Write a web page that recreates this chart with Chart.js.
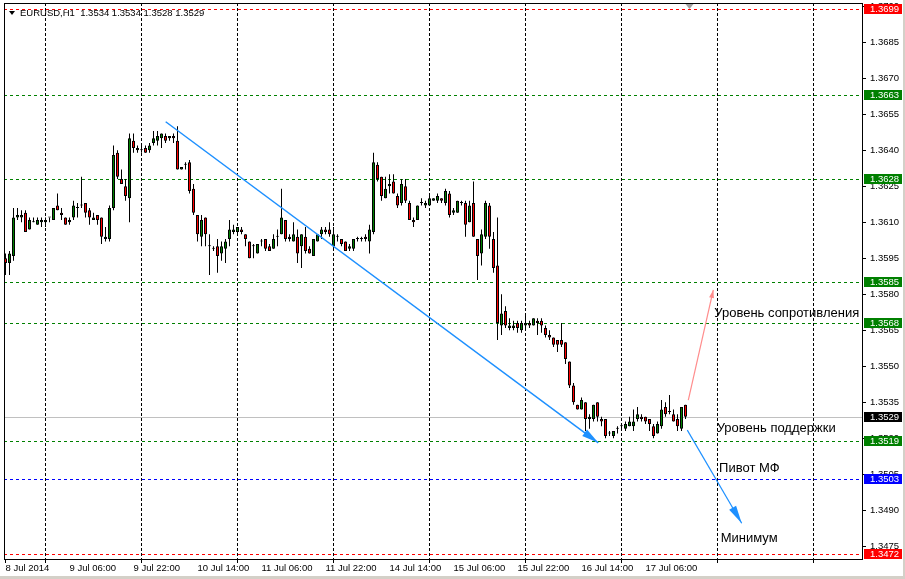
<!DOCTYPE html>
<html>
<head>
<meta charset="utf-8">
<script src="https://cdn.jsdelivr.net/npm/chart.js@4.4.1/dist/chart.umd.min.js"></script>
<style>
  html, body { margin: 0; padding: 0; background: #fff; }
  #wrap { width: 905px; height: 579px; position: relative; }
</style>
</head>
<body>
<div id="wrap"><canvas id="chart" width="905" height="579"></canvas></div>
<script>
// EURUSD, H1 - bars from 8 Jul 2014 14:00 to 17 Jul 2014 16:00
const opens = [
  1.3595, 1.3593, 1.3596, 1.3612, 1.3612, 1.3614, 1.3607, 1.3610, 1.3609, 1.3610,
  1.3610, 1.3612, 1.3611, 1.3617, 1.3614, 1.3612, 1.3610, 1.3612, 1.3616, 1.3617,
  1.3618, 1.3615, 1.3611, 1.3613, 1.3612, 1.3603, 1.3603, 1.3616, 1.3639, 1.3628,
  1.3625, 1.3620, 1.3644, 1.3640, 1.3640, 1.3641, 1.3640, 1.3643, 1.3644, 1.3645,
  1.3646, 1.3645, 1.3646, 1.3644, 1.3632, 1.3634, 1.3635, 1.3624, 1.3613, 1.3604,
  1.3612, 1.3600, 1.3599, 1.3600, 1.3597, 1.3599, 1.3603, 1.3606, 1.3606, 1.3607,
  1.3605, 1.3602, 1.3600, 1.3597, 1.3602, 1.3603, 1.3600, 1.3599, 1.3604, 1.3605,
  1.3611, 1.3604, 1.3602, 1.3604, 1.3600, 1.3604, 1.3599, 1.3596, 1.3602, 1.3605,
  1.3607, 1.3607, 1.3600, 1.3604, 1.3603, 1.3602, 1.3599, 1.3599, 1.3603, 1.3603,
  1.3604, 1.3602, 1.3606, 1.3634, 1.3629, 1.3620, 1.3625, 1.3627, 1.3621, 1.3618,
  1.3625, 1.3618, 1.3611, 1.3611, 1.3618, 1.3617, 1.3617, 1.3619, 1.3619, 1.3620,
  1.3618, 1.3622, 1.3614, 1.3614, 1.3618, 1.3618, 1.3610, 1.3618, 1.3603, 1.3597,
  1.3604, 1.3617, 1.3603, 1.3592, 1.3567, 1.3573, 1.3566, 1.3566, 1.3568, 1.3565,
  1.3567, 1.3568, 1.3567, 1.3569, 1.3569, 1.3566, 1.3563, 1.3562, 1.3561, 1.3561,
  1.3560, 1.3552, 1.3542, 1.3534, 1.3532, 1.3535, 1.3528, 1.3528, 1.3535, 1.3528,
  1.3528, 1.3522, 1.3521, 1.3524, 1.3525, 1.3524, 1.3525, 1.3525, 1.3528, 1.3529,
  1.3529, 1.3528, 1.3525, 1.3522, 1.3525, 1.3533, 1.3531, 1.3530, 1.3528, 1.3524,
  1.3534
];
const highs = [
  1.3597, 1.3598, 1.3616, 1.3616, 1.3615, 1.3615, 1.3612, 1.3612, 1.3612, 1.3612,
  1.3612, 1.3612, 1.3616, 1.3622, 1.3616, 1.3612, 1.3612, 1.3619, 1.3618, 1.3629,
  1.3618, 1.3616, 1.3614, 1.3613, 1.3612, 1.3608, 1.3617, 1.3642, 1.3640, 1.3632,
  1.3628, 1.3647, 1.3647, 1.3642, 1.3643, 1.3642, 1.3643, 1.3648, 1.3648, 1.3647,
  1.3647, 1.3646, 1.3647, 1.3650, 1.3633, 1.3635, 1.3636, 1.3626, 1.3613, 1.3613,
  1.3612, 1.3605, 1.3600, 1.3603, 1.3602, 1.3603, 1.3611, 1.3609, 1.3608, 1.3608,
  1.3605, 1.3602, 1.3601, 1.3601, 1.3603, 1.3603, 1.3601, 1.3605, 1.3607, 1.3624,
  1.3611, 1.3605, 1.3610, 1.3607, 1.3605, 1.3608, 1.3600, 1.3603, 1.3605, 1.3608,
  1.3608, 1.3610, 1.3608, 1.3605, 1.3603, 1.3602, 1.3601, 1.3603, 1.3604, 1.3604,
  1.3605, 1.3609, 1.3639, 1.3635, 1.3629, 1.3629, 1.3630, 1.3630, 1.3622, 1.3628,
  1.3628, 1.3619, 1.3612, 1.3617, 1.3620, 1.3619, 1.3621, 1.3620, 1.3622, 1.3620,
  1.3624, 1.3623, 1.3616, 1.3619, 1.3619, 1.3619, 1.3619, 1.3627, 1.3603, 1.3607,
  1.3619, 1.3618, 1.3606, 1.3612, 1.3580, 1.3575, 1.3570, 1.3569, 1.3569, 1.3569,
  1.3571, 1.3569, 1.3570, 1.3570, 1.3570, 1.3567, 1.3565, 1.3562, 1.3561, 1.3568,
  1.3560, 1.3552, 1.3543, 1.3534, 1.3537, 1.3535, 1.3530, 1.3534, 1.3535, 1.3529,
  1.3528, 1.3523, 1.3523, 1.3525, 1.3526, 1.3527, 1.3529, 1.3532, 1.3533, 1.3530,
  1.3529, 1.3528, 1.3526, 1.3527, 1.3536, 1.3535, 1.3538, 1.3532, 1.3530, 1.3533,
  1.3534
];
const lows = [
  1.3588, 1.3588, 1.3594, 1.3611, 1.3610, 1.3606, 1.3607, 1.3610, 1.3609, 1.3608,
  1.3608, 1.3610, 1.3611, 1.3615, 1.3611, 1.3609, 1.3609, 1.3611, 1.3612, 1.3616,
  1.3612, 1.3609, 1.3611, 1.3609, 1.3601, 1.3602, 1.3602, 1.3615, 1.3628, 1.3626,
  1.3619, 1.3610, 1.3639, 1.3639, 1.3639, 1.3639, 1.3639, 1.3642, 1.3642, 1.3641,
  1.3643, 1.3644, 1.3643, 1.3632, 1.3632, 1.3632, 1.3622, 1.3613, 1.3602, 1.3600,
  1.3600, 1.3588, 1.3598, 1.3589, 1.3594, 1.3593, 1.3600, 1.3605, 1.3605, 1.3605,
  1.3600, 1.3595, 1.3595, 1.3597, 1.3600, 1.3598, 1.3598, 1.3599, 1.3600, 1.3605,
  1.3602, 1.3602, 1.3602, 1.3593, 1.3591, 1.3597, 1.3597, 1.3596, 1.3602, 1.3603,
  1.3605, 1.3604, 1.3599, 1.3602, 1.3600, 1.3598, 1.3598, 1.3598, 1.3602, 1.3602,
  1.3602, 1.3597, 1.3605, 1.3627, 1.3619, 1.3620, 1.3622, 1.3622, 1.3616, 1.3617,
  1.3618, 1.3611, 1.3608, 1.3611, 1.3617, 1.3616, 1.3617, 1.3619, 1.3618, 1.3618,
  1.3617, 1.3612, 1.3613, 1.3614, 1.3617, 1.3604, 1.3610, 1.3604, 1.3586, 1.3592,
  1.3603, 1.3599, 1.3589, 1.3561, 1.3563, 1.3566, 1.3565, 1.3565, 1.3564, 1.3564,
  1.3565, 1.3566, 1.3567, 1.3563, 1.3564, 1.3562, 1.3561, 1.3558, 1.3556, 1.3558,
  1.3551, 1.3541, 1.3534, 1.3532, 1.3532, 1.3523, 1.3524, 1.3527, 1.3527, 1.3525,
  1.3520, 1.3521, 1.3520, 1.3522, 1.3523, 1.3523, 1.3525, 1.3523, 1.3527, 1.3527,
  1.3526, 1.3523, 1.3520, 1.3522, 1.3524, 1.3529, 1.3530, 1.3527, 1.3523, 1.3523,
  1.3528
];
const closes = [
  1.3593, 1.3597, 1.3612, 1.3613, 1.3613, 1.3606, 1.3611, 1.3610, 1.3611, 1.3611,
  1.3611, 1.3612, 1.3616, 1.3615, 1.3613, 1.3609, 1.3611, 1.3617, 1.3616, 1.3617,
  1.3614, 1.3612, 1.3612, 1.3611, 1.3604, 1.3604, 1.3616, 1.3638, 1.3629, 1.3626,
  1.3621, 1.3645, 1.3641, 1.3641, 1.3640, 1.3639, 1.3642, 1.3645, 1.3646, 1.3647,
  1.3644, 1.3646, 1.3645, 1.3632, 1.3633, 1.3634, 1.3623, 1.3614, 1.3605, 1.3611,
  1.3605, 1.3600, 1.3599, 1.3596, 1.3600, 1.3602, 1.3607, 1.3607, 1.3608, 1.3606,
  1.3603, 1.3595, 1.3600, 1.3601, 1.3602, 1.3599, 1.3598, 1.3603, 1.3604, 1.3612,
  1.3603, 1.3603, 1.3605, 1.3597, 1.3605, 1.3598, 1.3597, 1.3603, 1.3605, 1.3607,
  1.3606, 1.3605, 1.3605, 1.3604, 1.3601, 1.3598, 1.3600, 1.3603, 1.3603, 1.3603,
  1.3603, 1.3607, 1.3635, 1.3628, 1.3621, 1.3624, 1.3626, 1.3622, 1.3617, 1.3626,
  1.3619, 1.3611, 1.3610, 1.3617, 1.3618, 1.3618, 1.3620, 1.3620, 1.3621, 1.3619,
  1.3623, 1.3613, 1.3615, 1.3619, 1.3618, 1.3609, 1.3617, 1.3604, 1.3596, 1.3605,
  1.3618, 1.3604, 1.3591, 1.3568, 1.3572, 1.3567, 1.3567, 1.3567, 1.3566, 1.3568,
  1.3568, 1.3567, 1.3570, 1.3568, 1.3567, 1.3563, 1.3562, 1.3559, 1.3559, 1.3559,
  1.3553, 1.3542, 1.3535, 1.3532, 1.3536, 1.3528, 1.3529, 1.3534, 1.3529, 1.3527,
  1.3521, 1.3522, 1.3523, 1.3524, 1.3525, 1.3526, 1.3527, 1.3527, 1.3530, 1.3528,
  1.3527, 1.3526, 1.3521, 1.3526, 1.3532, 1.3530, 1.3531, 1.3527, 1.3525, 1.3533,
  1.3529
];

const symbol = 'EURUSD,H1';

// time axis: bar index -> label
const xTickBars = [0, 16, 32, 48, 64, 80, 96, 112, 128, 144, 160];
const xTickLabels = ['8 Jul 2014', '9 Jul 06:00', '9 Jul 22:00', '10 Jul 14:00', '11 Jul 06:00',
  '11 Jul 22:00', '14 Jul 14:00', '15 Jul 06:00', '15 Jul 22:00', '16 Jul 14:00', '17 Jul 06:00'];
const gridBars = [10, 34, 58, 82, 106, 130, 154, 178, 202];   // midnight bars
const yTicks = [1.3475, 1.3490, 1.3505, 1.3520, 1.3535, 1.3550, 1.3565, 1.3580,
  1.3595, 1.3610, 1.3625, 1.3640, 1.3655, 1.3670, 1.3685, 1.3700];

// horizontal levels
const levelPrices = [1.3699, 1.3663, 1.3628, 1.3585, 1.3568, 1.3519, 1.3503, 1.3472];
const levelColors = ['#ff0000', '#008000', '#008000', '#008000', '#008000', '#008000', '#0000ff', '#ff0000'];

// drawn objects (bar index, price)
const trendFrom = [40.05, 1.36519];
const trendTo = [148.2, 1.35181];
const upFrom = [170.7, 1.35359];
const upTo = [176.95, 1.35818];
const downFrom = [170.45, 1.35234];
const downTo = [184.05, 1.34846];
const noteTexts = ['Уровень сопротивления', 'Уровень поддержки', 'Пивот МФ', 'Минимум'];
const noteBars = [177.2, 177.8, 178.4, 178.8];
const notePrices = [1.35721, 1.35241, 1.35075, 1.34783];

const FONT = 'Liberation Sans, Arial, sans-serif';
const BULL = '#008000';
const BEAR = '#ff0000';

const idx = closes.map((c, i) => i);
const bodyColors = closes.map((c, i) => c >= opens[i] ? BULL : BEAR);

// 辅助：画带箭头的线
function drawArrow(ctx, x1, y1, x2, y2, color, width, headLen, headHalf) {
  ctx.strokeStyle = color;
  ctx.lineWidth = width;
  ctx.setLineDash([]);
  ctx.beginPath();
  ctx.moveTo(x1, y1);
  ctx.lineTo(x2, y2);
  ctx.stroke();
  if (!headLen) return;
  const a = Math.atan2(y2 - y1, x2 - x1);
  const bx = x2 - headLen * Math.cos(a), by = y2 - headLen * Math.sin(a);
  ctx.fillStyle = color;
  ctx.beginPath();
  ctx.moveTo(x2, y2);
  ctx.lineTo(bx + headHalf * Math.sin(a), by - headHalf * Math.cos(a));
  ctx.lineTo(bx - headHalf * Math.sin(a), by + headHalf * Math.cos(a));
  ctx.closePath();
  ctx.fill();
}

const terminalPlugin = {
  id: 'terminal',
  beforeDatasetsDraw(chart) {
    const {ctx, chartArea: a, scales: {x, y}} = chart;
    ctx.save();
    ctx.beginPath();
    ctx.rect(a.left, a.top, a.right - a.left, a.bottom - a.top);
    ctx.clip();
    ctx.lineWidth = 1;
    // vertical grid
    ctx.strokeStyle = '#000';
    ctx.setLineDash([3, 2]);
    gridBars.forEach(b => {
      const px = Math.floor(x.getPixelForValue(b)) + 0.5;
      ctx.beginPath();
      ctx.moveTo(px, a.top);
      ctx.lineTo(px, a.bottom);
      ctx.stroke();
    });
    // bid line
    ctx.setLineDash([]);
    ctx.strokeStyle = '#c0c0c0';
    const by = Math.round(y.getPixelForValue(closes[closes.length - 1])) + 0.5;
    ctx.beginPath();
    ctx.moveTo(a.left, by);
    ctx.lineTo(a.right, by);
    ctx.stroke();
    // levels
    ctx.setLineDash([3, 3]);
    levelPrices.forEach((p, k) => {
      const py = Math.round(y.getPixelForValue(p)) + 0.5;
      ctx.strokeStyle = levelColors[k];
      ctx.beginPath();
      ctx.moveTo(a.left, py);
      ctx.lineTo(a.right, py);
      ctx.stroke();
    });
    ctx.restore();
  },
  afterDatasetsDraw(chart) {
    const {ctx, chartArea: a, scales: {x, y}} = chart;
    const P = (pt) => [x.getPixelForValue(pt[0]), y.getPixelForValue(pt[1])];
    ctx.save();
    ctx.beginPath();
    ctx.rect(a.left, a.top, a.right - a.left, a.bottom - a.top);
    ctx.clip();
    let p1 = P(trendFrom), p2 = P(trendTo);
    drawArrow(ctx, p1[0], p1[1], p2[0], p2[1], '#1e90ff', 1.5, 17, 4);
    p1 = P(upFrom); p2 = P(upTo);
    drawArrow(ctx, p1[0], p1[1], p2[0], p2[1], '#ff8c8c', 1.2, 8, 2.5);
    p1 = P(downFrom); p2 = P(downTo);
    drawArrow(ctx, p1[0], p1[1], p2[0], p2[1], '#1e90ff', 1.2, 18, 4);
    // notes
    ctx.fillStyle = '#000';
    ctx.font = '13px ' + FONT;
    ctx.textBaseline = 'middle';
    ctx.textAlign = 'left';
    noteTexts.forEach((t, k) => {
      ctx.fillText(t, x.getPixelForValue(noteBars[k]), y.getPixelForValue(notePrices[k]));
    });
    ctx.restore();
  },
  afterDraw(chart) {
    const {ctx, chartArea: a, scales: {x, y}} = chart;
    ctx.save();
    // frame
    ctx.strokeStyle = '#000';
    ctx.lineWidth = 1;
    ctx.strokeRect(a.left + 0.5, a.top + 0.5, a.right - a.left, a.bottom - a.top);
    // bottom tick marks on grid lines
    [0].concat(gridBars).forEach(b => {
      const px = Math.floor(x.getPixelForValue(b)) + 0.5;
      if (px > a.right) return;
      ctx.beginPath();
      ctx.moveTo(px, a.bottom);
      ctx.lineTo(px, a.bottom + 4);
      ctx.stroke();
    });
    // price boxes on the axis
    ctx.font = '9.5px ' + FONT;
    ctx.textBaseline = 'middle';
    ctx.textAlign = 'left';
    const box = (price, color) => {
      const py = Math.round(y.getPixelForValue(price));
      ctx.fillStyle = color;
      ctx.fillRect(a.right + 2, py - 5, 38, 10);
      ctx.fillStyle = '#fff';
      ctx.fillText(price.toFixed(4), a.right + 8, py + 0.5);
    };
    levelPrices.forEach((p, k) => box(p, levelColors[k]));
    box(closes[closes.length - 1], '#000');
    // header
    const n = closes.length - 1;
    ctx.fillStyle = '#000';
    ctx.beginPath();
    ctx.moveTo(9, 11); ctx.lineTo(15, 11); ctx.lineTo(12, 15); ctx.closePath();
    ctx.fill();
    ctx.fillText(symbol + '  ' + [opens[n], highs[n], lows[n], closes[n]].map(v => v.toFixed(4)).join(' '), 20, 13);
    // chart shift marker
    const sx = x.getPixelForValue(n) + 4;
    ctx.fillStyle = '#a0a0a0';
    ctx.beginPath();
    ctx.moveTo(sx - 4, a.top + 1); ctx.lineTo(sx + 4, a.top + 1); ctx.lineTo(sx, a.top + 6); ctx.closePath();
    ctx.fill();
    // window edges
    ctx.fillStyle = '#d4d0c8';
    ctx.fillRect(903, 0, 2, 579);
    ctx.fillRect(0, 576, 905, 3);
    ctx.restore();
  }
};

const chart = new Chart(document.getElementById('chart'), {
  type: 'bar',
  data: {
    datasets: [
      {
        label: 'body',
        data: idx.map(i => ({x: i, y: [opens[i], closes[i]]})),
        backgroundColor: bodyColors,
        borderColor: '#000',
        borderWidth: 1,
        borderSkipped: false,
        barThickness: 3,
        minBarLength: 1,
        inflateAmount: 0,
        grouped: false
      },
      {
        label: 'wick',
        data: idx.map(i => ({x: i, y: [lows[i], highs[i]]})),
        backgroundColor: '#000',
        borderWidth: 0,
        barThickness: 1,
        inflateAmount: 0,
        grouped: false
      }
    ]
  },
  options: {
    responsive: false,
    animation: false,
    events: [],
    layout: {padding: {left: 4, top: 3, right: 0, bottom: 0}},
    plugins: {legend: {display: false}, tooltip: {enabled: false}},
    scales: {
      x: {
        type: 'linear',
        min: -0.375,
        max: 214.125,
        offset: false,
        grid: {display: false, drawTicks: false},
        border: {display: false},
        afterBuildTicks: s => { s.ticks = xTickBars.map(v => ({value: v})); },
        afterFit: s => {
          s.height = 20;
          s.paddingLeft = 0;
          s.paddingRight = 0;
        },
        ticks: {
          autoSkip: false,
          maxRotation: 0,
          align: 'start',
          padding: 4,
          color: '#000',
          font: {family: FONT, size: 9.5},
          callback: v => {
            const k = xTickBars.indexOf(v);
            return k >= 0 ? xTickLabels[k] : '';
          }
        }
      },
      y: {
        type: 'linear',
        position: 'right',
        min: 1.346971,
        max: 1.370138,
        grid: {drawOnChartArea: false, drawTicks: true, tickLength: 4, color: '#000'},
        border: {display: false},
        afterBuildTicks: s => { s.ticks = yTicks.map(v => ({value: v})); },
        afterFit: s => {
          s.width = 43;
          s.paddingTop = 0;
          s.paddingBottom = 0;
        },
        ticks: {
          padding: 4,
          color: '#000',
          font: {family: FONT, size: 9.5},
          callback: v => v.toFixed(4)
        }
      }
    }
  },
  plugins: [terminalPlugin]
});
</script>
</body>
</html>
